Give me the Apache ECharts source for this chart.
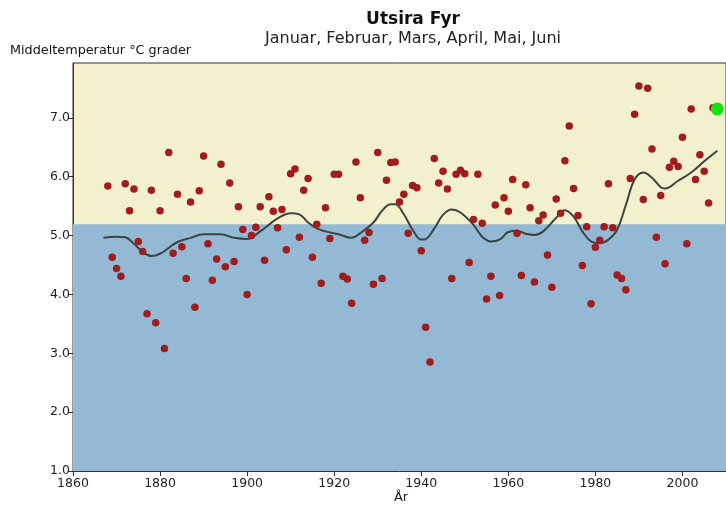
<!DOCTYPE html>
<html>
<head>
<meta charset="utf-8">
<script src="https://cdn.jsdelivr.net/npm/echarts@6/dist/echarts.min.js"></script>
<style>
  html, body { margin: 0; padding: 0; background: #ffffff; }
  #chart { width: 726px; height: 506px; }
</style>
</head>
<body>
<div id="chart"></div>
<script>
// Utsira Fyr – mean temperature January–June, one value per year
const years = [
  1868, 1869, 1870, 1871, 1872, 1873, 1874, 1875, 1876, 1877,
  1878, 1879, 1880, 1881, 1882, 1883, 1884, 1885, 1886, 1887,
  1888, 1889, 1890, 1891, 1892, 1893, 1894, 1895, 1896, 1897,
  1898, 1899, 1900, 1901, 1902, 1903, 1904, 1905, 1906, 1907,
  1908, 1909, 1910, 1911, 1912, 1913, 1914, 1915, 1916, 1917,
  1918, 1919, 1920, 1921, 1922, 1923, 1924, 1925, 1926, 1927,
  1928, 1929, 1930, 1931, 1932, 1933, 1934, 1935, 1936, 1937,
  1938, 1939, 1940, 1941, 1942, 1943, 1944, 1945, 1946, 1947,
  1948, 1949, 1950, 1951, 1952, 1953, 1954, 1955, 1956, 1957,
  1958, 1959, 1960, 1961, 1962, 1963, 1964, 1965, 1966, 1967,
  1968, 1969, 1970, 1971, 1972, 1973, 1974, 1975, 1976, 1977,
  1978, 1979, 1980, 1981, 1982, 1983, 1984, 1985, 1986, 1987,
  1988, 1989, 1990, 1991, 1992, 1993, 1994, 1995, 1996, 1997,
  1998, 1999, 2000, 2001, 2002, 2003, 2004, 2005, 2006, 2007
];
const meanTemp = [
  5.84, 4.63, 4.44, 4.31, 5.88, 5.42, 5.79, 4.90, 4.73, 3.67,
  5.77, 3.52, 5.42, 3.08, 6.41, 4.70, 5.70, 4.81, 4.27, 5.57,
  3.78, 5.76, 6.35, 4.86, 4.24, 4.60, 6.21, 4.47, 5.89, 4.56,
  5.49, 5.10, 4.00, 5.00, 5.14, 5.49, 4.58, 5.66, 5.41, 5.13,
  5.44, 4.76, 6.05, 6.13, 4.97, 5.77, 5.97, 4.63, 5.19, 4.19,
  5.47, 4.95, 6.04, 6.04, 4.31, 4.26, 3.85, 6.25, 5.64, 4.92,
  5.05, 4.17, 6.41, 4.27, 5.94, 6.24, 6.25, 5.57, 5.70, 5.04,
  5.85, 5.81, 4.74, 3.44, 2.85, 6.31, 5.89, 6.09, 5.79, 4.27,
  6.04, 6.11, 6.05, 4.54, 5.27, 6.04, 5.21, 3.92, 4.31, 5.52,
  3.98, 5.64, 5.41, 5.95, 5.04, 4.32, 5.86, 5.47, 4.21, 5.25,
  5.35, 4.67, 4.12, 5.62, 5.38, 6.27, 6.86, 5.80, 5.34, 4.49,
  5.15, 3.84, 4.80, 4.92, 5.15, 5.88, 5.13, 4.33, 4.27, 4.08,
  5.97, 7.06, 7.54, 5.61, 7.50, 6.47, 4.97, 5.68, 4.52, 6.16,
  6.26, 6.17, 6.67, 4.86, 7.15, 5.95, 6.37, 6.09, 5.55, 7.17
];

// Running year (partial)
const currentYear = [2008];
const currentTemp = [7.15];

// Smoothed trend curve
const trendYears = [
  1867, 1870, 1872, 1874, 1876, 1878, 1880, 1882, 1884, 1887,
  1890, 1894, 1897, 1900, 1903, 1907, 1910, 1912, 1914, 1916,
  1918, 1921, 1924, 1926, 1929, 1931, 1933, 1934, 1936, 1938,
  1940, 1941, 1943, 1945, 1947, 1949, 1952, 1954, 1956, 1958,
  1960, 1962, 1964, 1966, 1968, 1971, 1973, 1975, 1977, 1979,
  1981, 1983, 1985, 1987, 1989, 1991, 1993, 1995, 1996, 1999,
  2002, 2005, 2008
];
const trendTemp = [
  4.96, 4.98, 4.97, 4.86, 4.72, 4.65, 4.69, 4.79, 4.89, 4.96,
  5.02, 5.02, 4.96, 4.94, 5.07, 5.29, 5.38, 5.36, 5.22, 5.12,
  5.07, 5.02, 4.96, 5.04, 5.22, 5.42, 5.53, 5.53, 5.36, 5.10,
  4.93, 4.94, 5.12, 5.35, 5.44, 5.39, 5.18, 4.98, 4.90, 4.93,
  5.06, 5.08, 5.03, 5.01, 5.07, 5.30, 5.43, 5.32, 5.07, 4.90,
  4.87, 4.93, 5.10, 5.52, 5.95, 6.07, 5.98, 5.82, 5.80, 5.93,
  6.07, 6.26, 6.44
];

// Long-term normal separating the warm and cold bands
const normalTemp = 5.19;

const xTicks = [1860, 1880, 1900, 1920, 1940, 1960, 1980, 2000];
const yTicks = [1, 2, 3, 4, 5, 6, 7];
const yMin = 1.0, yMax = 7.93;
const xMin = 1860, xMax = 2010;

const FONT = 'DejaVu Sans';
const chart = echarts.init(document.getElementById('chart'), null, { renderer: 'canvas' });

chart.setOption({
  animation: false,
  backgroundColor: '#ffffff',
  title: [
    {
      text: 'Utsira Fyr',
      left: 413, top: 11, padding: 0, textAlign: 'center',
      textStyle: { fontFamily: FONT, fontSize: 17, fontWeight: 'bold', color: '#111' }
    },
    {
      text: 'Januar, Februar, Mars, April, Mai, Juni',
      left: 413, top: 31, padding: 0, textAlign: 'center',
      textStyle: { fontFamily: FONT, fontSize: 16, fontWeight: 'normal', color: '#222' }
    },
    {
      text: 'Middeltemperatur °C grader',
      left: 10, top: 44, padding: 0,
      textStyle: { fontFamily: FONT, fontSize: 12.8, fontWeight: 'normal', color: '#111' }
    },
    {
      text: 'År',
      left: 401, top: 491, padding: 0, textAlign: 'center',
      textStyle: { fontFamily: FONT, fontSize: 13, fontWeight: 'normal', color: '#222' }
    }
  ],
  grid: {
    left: 73, top: 63, width: 660, height: 408,
    show: true, backgroundColor: '#f3f1cd', borderColor: '#333', borderWidth: 1
  },
  xAxis: {
    type: 'value', min: xMin, max: xMax, interval: 20,
    axisLine: { show: true, onZero: false, lineStyle: { color: '#333', width: 1 } },
    axisTick: { show: true, length: 5, lineStyle: { color: '#333' } },
    splitLine: { show: false },
    axisLabel: {
      fontFamily: FONT, fontSize: 12.5, color: '#222', margin: 6,
      showMaxLabel: false,
      formatter: v => (xTicks.indexOf(v) >= 0 ? String(v) : '')
    }
  },
  yAxis: {
    type: 'value', min: yMin, max: yMax, interval: 1,
    axisLine: { show: true, lineStyle: { color: '#333', width: 1 } },
    axisTick: { show: true, length: 5, lineStyle: { color: '#333' } },
    splitLine: { show: false },
    axisLabel: {
      fontFamily: FONT, fontSize: 12.5, color: '#222', margin: 3,
      showMaxLabel: false,
      formatter: v => (yTicks.indexOf(v) >= 0 ? v.toFixed(1) : '')
    }
  },
  series: [
    {
      name: 'band',
      type: 'line',
      data: [],
      silent: true,
      markArea: {
        silent: true,
        itemStyle: { color: '#93b9d5', opacity: 1 },
        data: [[{ yAxis: yMin }, { yAxis: normalTemp }]]
      }
    },
    {
      name: 'trend',
      type: 'line',
      data: trendYears.map((y, i) => [y, trendTemp[i]]),
      smooth: 0.4,
      symbol: 'none',
      lineStyle: { color: '#3b4540', width: 2 },
      z: 3
    },
    {
      name: 'middeltemperatur',
      type: 'scatter',
      data: years.map((y, i) => [y, meanTemp[i]]),
      symbol: 'circle',
      symbolSize: 7.5,
      itemStyle: { color: '#a11c1c', opacity: 1 },
      z: 4
    },
    {
      name: 'inneværende år',
      type: 'scatter',
      data: currentYear.map((y, i) => [y, currentTemp[i]]),
      symbol: 'circle',
      symbolSize: 13,
      itemStyle: { color: '#14e014', opacity: 1 },
      z: 5
    }
  ]
});
</script>
</body>
</html>
